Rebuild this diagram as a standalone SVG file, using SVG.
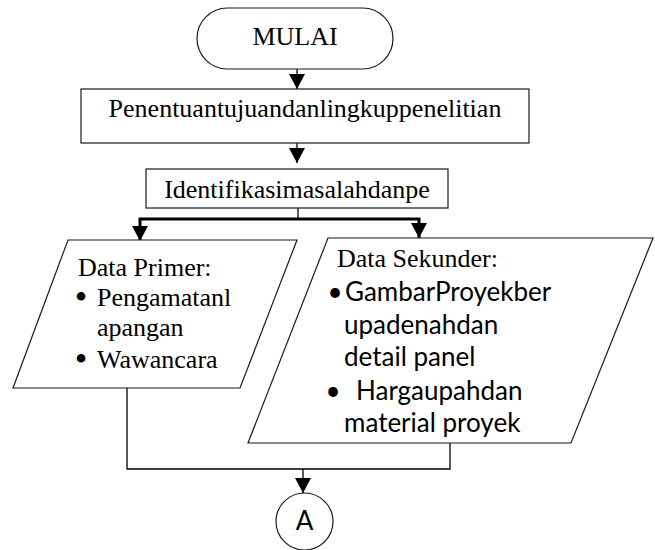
<svg xmlns="http://www.w3.org/2000/svg" width="655" height="550" viewBox="0 0 655 550">
<style>
.shape{fill:#fff;stroke:#1a1a1a;stroke-width:1.2}
.serif{font-family:"Liberation Serif","Times New Roman",serif;font-size:26px;fill:#000}
.bul{font-family:"Liberation Serif","Times New Roman",serif;font-size:36px;fill:#000}
.sans{font-family:Lato,"Liberation Sans",sans-serif;font-size:26px;fill:#000}
.thin{fill:none;stroke:#000;stroke-width:1.3}
.thick{fill:none;stroke:#000;stroke-width:3}
</style>
<defs>
<marker id="ah" markerUnits="userSpaceOnUse" markerWidth="15" markerHeight="16" viewBox="0 0 15 16" refX="15" refY="8" orient="auto">
<path d="M0,0 L15,8 L0,16 Z" fill="#000"/>
</marker>
</defs>
<rect width="655" height="550" fill="#fff"/>
<g id="connectors">
<path class="thin" d="M297,69 V89" marker-end="url(#ah)"/>
<path class="thin" d="M297,143 V163" marker-end="url(#ah)"/>
<path class="thin" d="M298,208 V219"/>
<path class="thick" d="M298,219 H140 V241" marker-end="url(#ah)"/>
<path class="thick" d="M298,219 H419 V238" marker-end="url(#ah)"/>
<path class="thin" d="M127,388 V469 H450 V443"/>
<path class="thin" d="M303,469 V493" marker-end="url(#ah)"/>
</g>
<g id="mulai">
<rect class="shape" x="197" y="8" width="196" height="61" rx="30.5"/>
<text class="serif" x="295" y="45" text-anchor="middle">MULAI</text>
</g>
<g id="penentuan">
<rect class="shape" x="81" y="89" width="448" height="54"/>
<text class="serif" x="305" y="117" text-anchor="middle">Penentuantujuandanlingkuppenelitian</text>
</g>
<g id="identifikasi">
<rect class="shape" x="146" y="169" width="302" height="39"/>
<text class="serif" x="297" y="198" text-anchor="middle">Identifikasimasalahdanpe</text>
</g>
<g id="data-primer">
<polygon class="shape" points="68,240 297,240 240,388 13,388"/>
<text class="serif" x="78" y="276">Data Primer:</text>
<text class="bul" x="81" y="309" text-anchor="middle">•</text>
<text class="serif" x="97" y="306">Pengamatanl</text>
<text class="serif" x="97" y="336">apangan</text>
<text class="bul" x="81" y="371" text-anchor="middle">•</text>
<text class="serif" x="97" y="368">Wawancara</text>
</g>
<g id="data-sekunder">
<polygon class="shape" points="328,238 653,238 571,443 248,443"/>
<text class="serif" x="337" y="267">Data Sekunder:</text>
<text class="sans" x="335" y="301" text-anchor="middle">•</text>
<text class="sans" x="345" y="301">GambarProyekber</text>
<text class="sans" x="344" y="334">upadenahdan</text>
<text class="sans" x="344" y="366">detail panel</text>
<text class="sans" x="333" y="400" text-anchor="middle">•</text>
<text class="sans" x="356" y="400">Hargaupahdan</text>
<text class="sans" x="344" y="432">material proyek</text>
</g>
<g id="connector-a">
<circle class="shape" cx="304.5" cy="521.5" r="28.5"/>
<text class="sans" x="304.5" y="530" text-anchor="middle" font-size="22">A</text>
</g>
</svg>
